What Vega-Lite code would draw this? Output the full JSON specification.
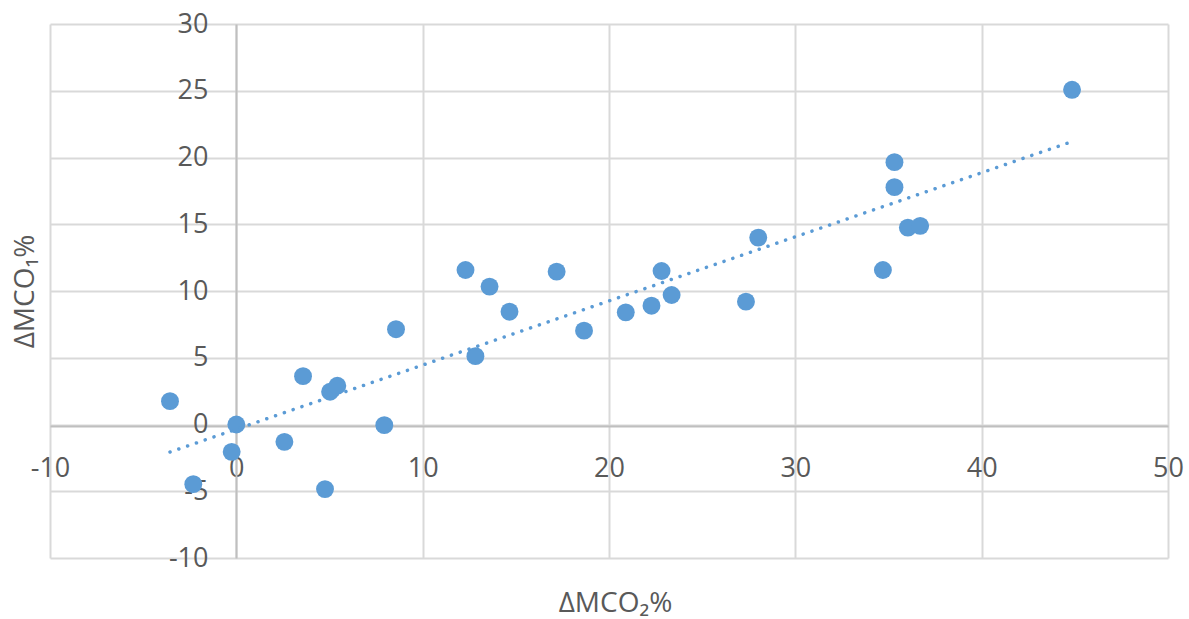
{
  "$schema": "https://vega.github.io/schema/vega-lite/v6.json",
  "width": 1118,
  "height": 534,
  "autosize": {"type": "none"},
  "padding": {"left": 50, "top": 24, "right": 21, "bottom": 61},
  "background": "white",
  "config": {"view": {"stroke": null}, "font": "Open Sans"},
  "data": {
    "values": [
      {"x": -3.56, "y": 1.75},
      {"x": -2.31, "y": -4.47},
      {"x": -0.25, "y": -2.05},
      {"x": 0.0, "y": 0.0},
      {"x": 2.58, "y": -1.3},
      {"x": 3.58, "y": 3.62},
      {"x": 4.76, "y": -4.84},
      {"x": 5.03, "y": 2.45},
      {"x": 5.42, "y": 2.9},
      {"x": 7.94, "y": -0.05},
      {"x": 8.57, "y": 7.14},
      {"x": 12.3, "y": 11.57},
      {"x": 12.83, "y": 5.12},
      {"x": 13.59, "y": 10.33},
      {"x": 14.66, "y": 8.45},
      {"x": 17.19, "y": 11.45},
      {"x": 18.66, "y": 7.03},
      {"x": 20.9, "y": 8.4},
      {"x": 22.28, "y": 8.9},
      {"x": 22.82, "y": 11.5},
      {"x": 23.36, "y": 9.7},
      {"x": 27.35, "y": 9.2},
      {"x": 28.01, "y": 14.0},
      {"x": 34.7, "y": 11.57},
      {"x": 35.32, "y": 19.65},
      {"x": 35.32, "y": 17.78},
      {"x": 36.04, "y": 14.75},
      {"x": 36.7, "y": 14.88},
      {"x": 44.85, "y": 25.07}
    ]
  },
  "layer": [
    {
      "mark": {"type": "circle", "size": 320, "color": "#5B9BD5", "opacity": 1},
      "encoding": {
        "x": {
          "field": "x", "type": "quantitative",
          "scale": {"domain": [-10, 50], "nice": false, "zero": false},
          "axis": {
            "orient": "bottom",
            "values": [-10, 0, 10, 20, 30, 40, 50],
            "grid": true, "gridColor": "#D9D9D9", "gridWidth": 2,
            "domain": false, "ticks": false, "labels": false,
            "title": "ΔMCO₂%",
            "titleFont": "Open Sans", "titleFontSize": 28, "titleFontWeight": "normal",
            "titleColor": "#595959",
            "titleX": 565, "titleY": 45, "titleBaseline": "middle", "titleAnchor": null
          }
        },
        "y": {
          "field": "y", "type": "quantitative",
          "scale": {"domain": [-10, 30], "nice": false, "zero": false},
          "axis": {
            "orient": "left",
            "values": [-10, -5, 0, 5, 10, 15, 20, 25, 30],
            "grid": true, "gridColor": "#D9D9D9", "gridWidth": 2,
            "domain": false, "ticks": false, "labels": false,
            "title": "ΔMCO₁%",
            "titleFont": "Open Sans", "titleFontSize": 28, "titleFontWeight": "normal",
            "titleColor": "#595959",
            "titleX": -25, "titleY": 267, "titleAngle": -90, "titleBaseline": "middle", "titleAnchor": null
          }
        }
      }
    },
    {
      "transform": [{"regression": "y", "on": "x"}],
      "mark": {"type": "line", "color": "#5B9BD5", "strokeWidth": 3.5, "strokeDash": [0.1, 9.2], "strokeCap": "round"},
      "encoding": {
        "x": {
          "field": "x", "type": "quantitative",
          "scale": {"domain": [-10, 50], "nice": false, "zero": false},
          "axis": {
            "orient": "bottom", "offset": -132,
            "values": [-10, 0, 10, 20, 30, 40, 50],
            "grid": false, "ticks": false, "tickSize": 0,
            "domain": true, "domainColor": "#BFBFBF", "domainWidth": 2,
            "labelFont": "Open Sans", "labelFontSize": 27, "labelColor": "#595959",
            "labelPadding": 42, "labelBaseline": "middle", "labelFlush": false,
            "labelOverlap": false, "labelBound": false,
            "labelExpr": "replace(datum.label, '−', '-')",
            "title": null
          }
        },
        "y": {
          "field": "y", "type": "quantitative",
          "scale": {"domain": [-10, 30], "nice": false, "zero": false},
          "axis": {
            "orient": "left", "offset": -186,
            "values": [-10, -5, 0, 5, 10, 15, 20, 25, 30],
            "grid": false, "ticks": false, "tickSize": 0,
            "domain": true, "domainColor": "#BFBFBF", "domainWidth": 2,
            "labelFont": "Open Sans", "labelFontSize": 27, "labelColor": "#595959",
            "labelPadding": 28, "labelBaseline": "middle", "labelAlign": "right", "labelFlush": false,
            "labelOverlap": false, "labelBound": false,
            "labelExpr": "replace(datum.label, '−', '-')",
            "title": null
          }
        }
      }
    }
  ],
  "resolve": {"axis": {"x": "independent", "y": "independent"}}
}
